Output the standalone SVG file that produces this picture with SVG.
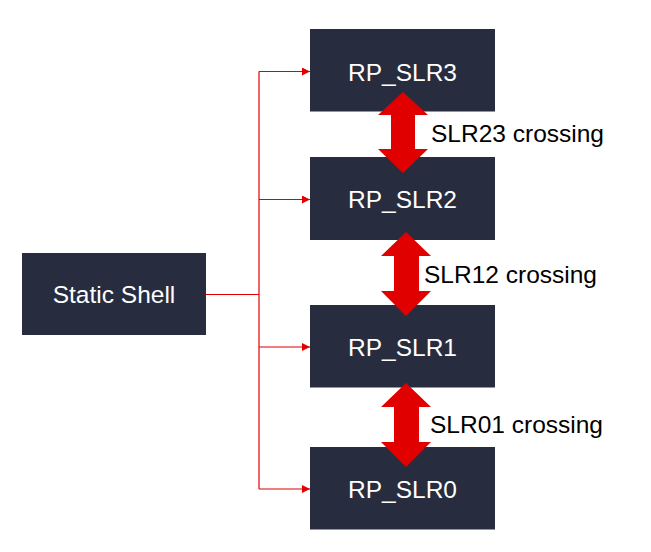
<svg xmlns="http://www.w3.org/2000/svg" width="651" height="552" viewBox="0 0 651 552">
<style>
.box{fill:#272D3F}
.lbl{font-family:"Liberation Sans",Arial,sans-serif;font-size:24.5px;fill:#FFFFFF;text-anchor:middle}
.cap{font-family:"Liberation Sans",Arial,sans-serif;font-size:24.5px;fill:#000000}
.conn{fill:none;stroke:#E00000;stroke-width:1.2}
.dbl{fill:#E00000}
</style>
<defs>
<marker id="ah" markerWidth="8" markerHeight="8" refX="8" refY="4" orient="auto" markerUnits="userSpaceOnUse">
<path d="M0,0 L8,4 L0,8 Z" fill="#E00000"/>
</marker>
</defs>
<rect width="651" height="552" fill="#FFFFFF"/>
<g id="connectors">
<path class="conn" d="M206,294.5 H259"/>
<path class="conn" d="M259,71.5 V489"/>
<path class="conn" d="M259,71.5 H310" marker-end="url(#ah)"/>
<path class="conn" d="M259,199.5 H310" marker-end="url(#ah)"/>
<path class="conn" d="M259,347 H310" marker-end="url(#ah)"/>
<path class="conn" d="M259,489 H310" marker-end="url(#ah)"/>
</g>
<g id="static-shell">
<rect class="box" x="22" y="253" width="184" height="82"/>
<text class="lbl" x="114" y="302.5">Static Shell</text>
</g>
<g id="rp-slr3">
<rect class="box" x="310" y="29" width="185" height="82.5"/>
<text class="lbl" x="402.5" y="80.5">RP_SLR3</text>
</g>
<g id="rp-slr2">
<rect class="box" x="310" y="157" width="185" height="83"/>
<text class="lbl" x="402.5" y="208">RP_SLR2</text>
</g>
<g id="rp-slr1">
<rect class="box" x="310" y="305" width="185" height="82.5"/>
<text class="lbl" x="402.5" y="355.5">RP_SLR1</text>
</g>
<g id="rp-slr0">
<rect class="box" x="310" y="447" width="185" height="82.5"/>
<text class="lbl" x="402.5" y="497.5">RP_SLR0</text>
</g>
<g id="slr23-crossing">
<polygon class="dbl" points="403,92 428,115 415,115 415,149 428,149 403,173 378,149 391,149 391,115 378,115"/>
<text class="cap" x="431" y="142">SLR23 crossing</text>
</g>
<g id="slr12-crossing">
<polygon class="dbl" points="406,232 431,256 419,256 419,291 431,291 406,316 381,291 394,291 394,256 381,256"/>
<text class="cap" x="424" y="282.5">SLR12 crossing</text>
</g>
<g id="slr01-crossing">
<polygon class="dbl" points="406,383 431,407 419,407 419,442 431,442 406,467 381,442 394,442 394,407 381,407"/>
<text class="cap" x="430" y="432.5">SLR01 crossing</text>
</g>
</svg>
